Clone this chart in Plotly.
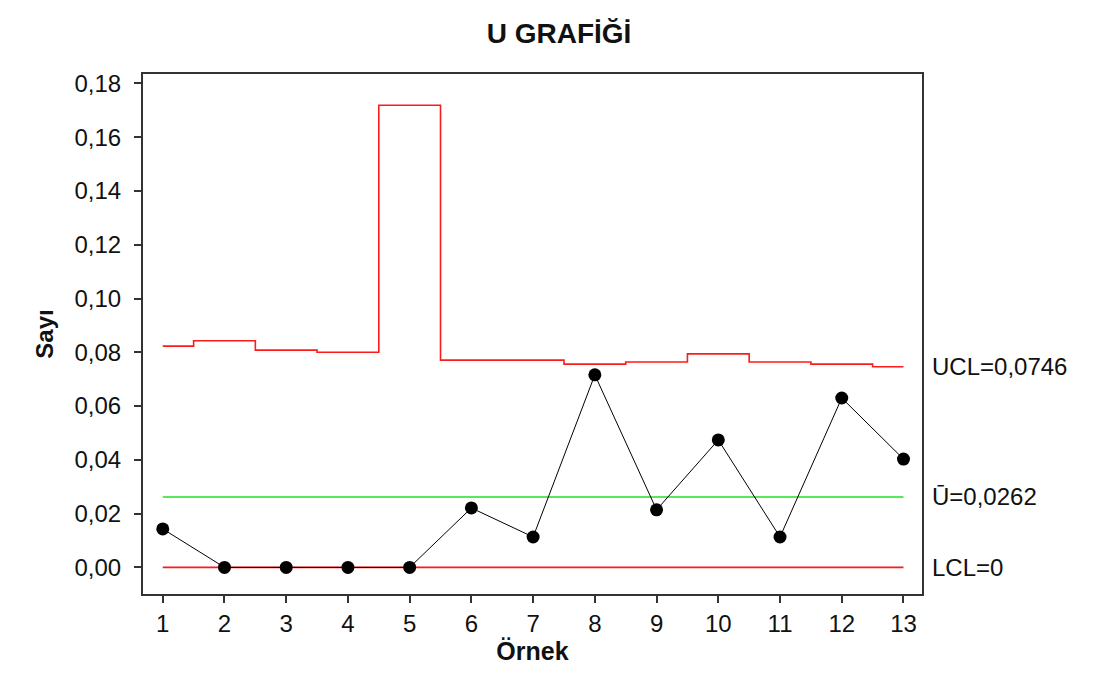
import plotly.graph_objects as go

# Sample numbers and per-sample defect rates (u)
samples = list(range(1, 14))
u_values = [0.0143, 0.0, 0.0, 0.0, 0.0, 0.0221, 0.0113, 0.0716, 0.0214, 0.0474, 0.0113, 0.0630, 0.0403]

# Upper control limit for each sample (varies with sample size)
ucl_values = [0.0823, 0.0843, 0.0808, 0.0800, 0.1719, 0.0771, 0.0771, 0.0756, 0.0764, 0.0794, 0.0764, 0.0756, 0.0746]

# Centre line and lower control limit
u_bar = 0.0262
lcl = 0.0

y_ticks = [0.00, 0.02, 0.04, 0.06, 0.08, 0.10, 0.12, 0.14, 0.16, 0.18]

FONT = "Liberation Sans, Arial, sans-serif"
INK = "#111"


def tr(v, digits):
    return f"{v:.{digits}f}".replace(".", ",")


fig = go.Figure()

# UCL as a step line centred on each sample
fig.add_trace(go.Scatter(
    x=samples, y=ucl_values, mode="lines", line_shape="hvh",
    line=dict(color="#ff1a1a", width=1.6), hoverinfo="skip", showlegend=False,
))

# Centre line
fig.add_trace(go.Scatter(
    x=[samples[0], samples[-1]], y=[u_bar, u_bar], mode="lines",
    line=dict(color="#22e022", width=1.6), hoverinfo="skip", showlegend=False,
))

# LCL
fig.add_trace(go.Scatter(
    x=[samples[0], samples[-1]], y=[lcl, lcl], mode="lines",
    line=dict(color="#ff1a1a", width=1.6), hoverinfo="skip", showlegend=False,
))

# Observed u values
fig.add_trace(go.Scatter(
    x=samples, y=u_values, mode="lines+markers",
    line=dict(color="black", width=1),
    marker=dict(color="black", size=13),
    showlegend=False,
))

# Limit labels to the right of the plot area
labels = [
    (ucl_values[-1], "UCL=" + tr(ucl_values[-1], 4)),
    (u_bar, "Ū=" + tr(u_bar, 4)),
    (lcl, "LCL=" + ("0" if lcl == 0 else tr(lcl, 4))),
]
for yv, txt in labels:
    fig.add_annotation(
        x=1.01, xref="paper", y=yv, yref="y", text=txt, showarrow=False,
        xanchor="left", yanchor="middle",
        font=dict(family=FONT, size=24, color=INK),
    )

fig.update_layout(
    width=1107, height=675,
    paper_bgcolor="white", plot_bgcolor="white",
    separators=",.",
    margin=dict(l=143, r=185, t=74, b=81),
    title=dict(
        text="<b>U GRAFİĞİ</b>", x=0.505, xref="container", xanchor="center",
        y=0.951, yref="container", yanchor="middle",
        font=dict(family=FONT, size=28, color=INK),
    ),
    font=dict(family=FONT, color=INK),
)

fig.update_xaxes(
    range=[0.68, 13.3], tickmode="array", tickvals=samples,
    ticktext=[str(s) for s in samples],
    showgrid=False, zeroline=False,
    showline=True, linecolor="#333", linewidth=2, mirror=True,
    ticks="outside", ticklen=7, tickwidth=2, tickcolor="#333",
    tickfont=dict(family=FONT, size=24, color=INK),
    title=dict(text="<b>Örnek</b>", font=dict(family=FONT, size=25, color=INK), standoff=6),
)

fig.update_yaxes(
    range=[-0.0099, 0.1835], tickmode="array", tickvals=y_ticks,
    ticktext=[tr(v, 2) for v in y_ticks],
    showgrid=False, zeroline=False,
    showline=True, linecolor="#333", linewidth=2, mirror=True,
    ticks="outside", ticklen=7, tickwidth=2, tickcolor="#333",
    ticklabelstandoff=8,
    tickfont=dict(family=FONT, size=24, color=INK),
    title=dict(text="<b>Sayı</b>", font=dict(family=FONT, size=24, color=INK), standoff=14),
)

fig.write_html("out.html")
